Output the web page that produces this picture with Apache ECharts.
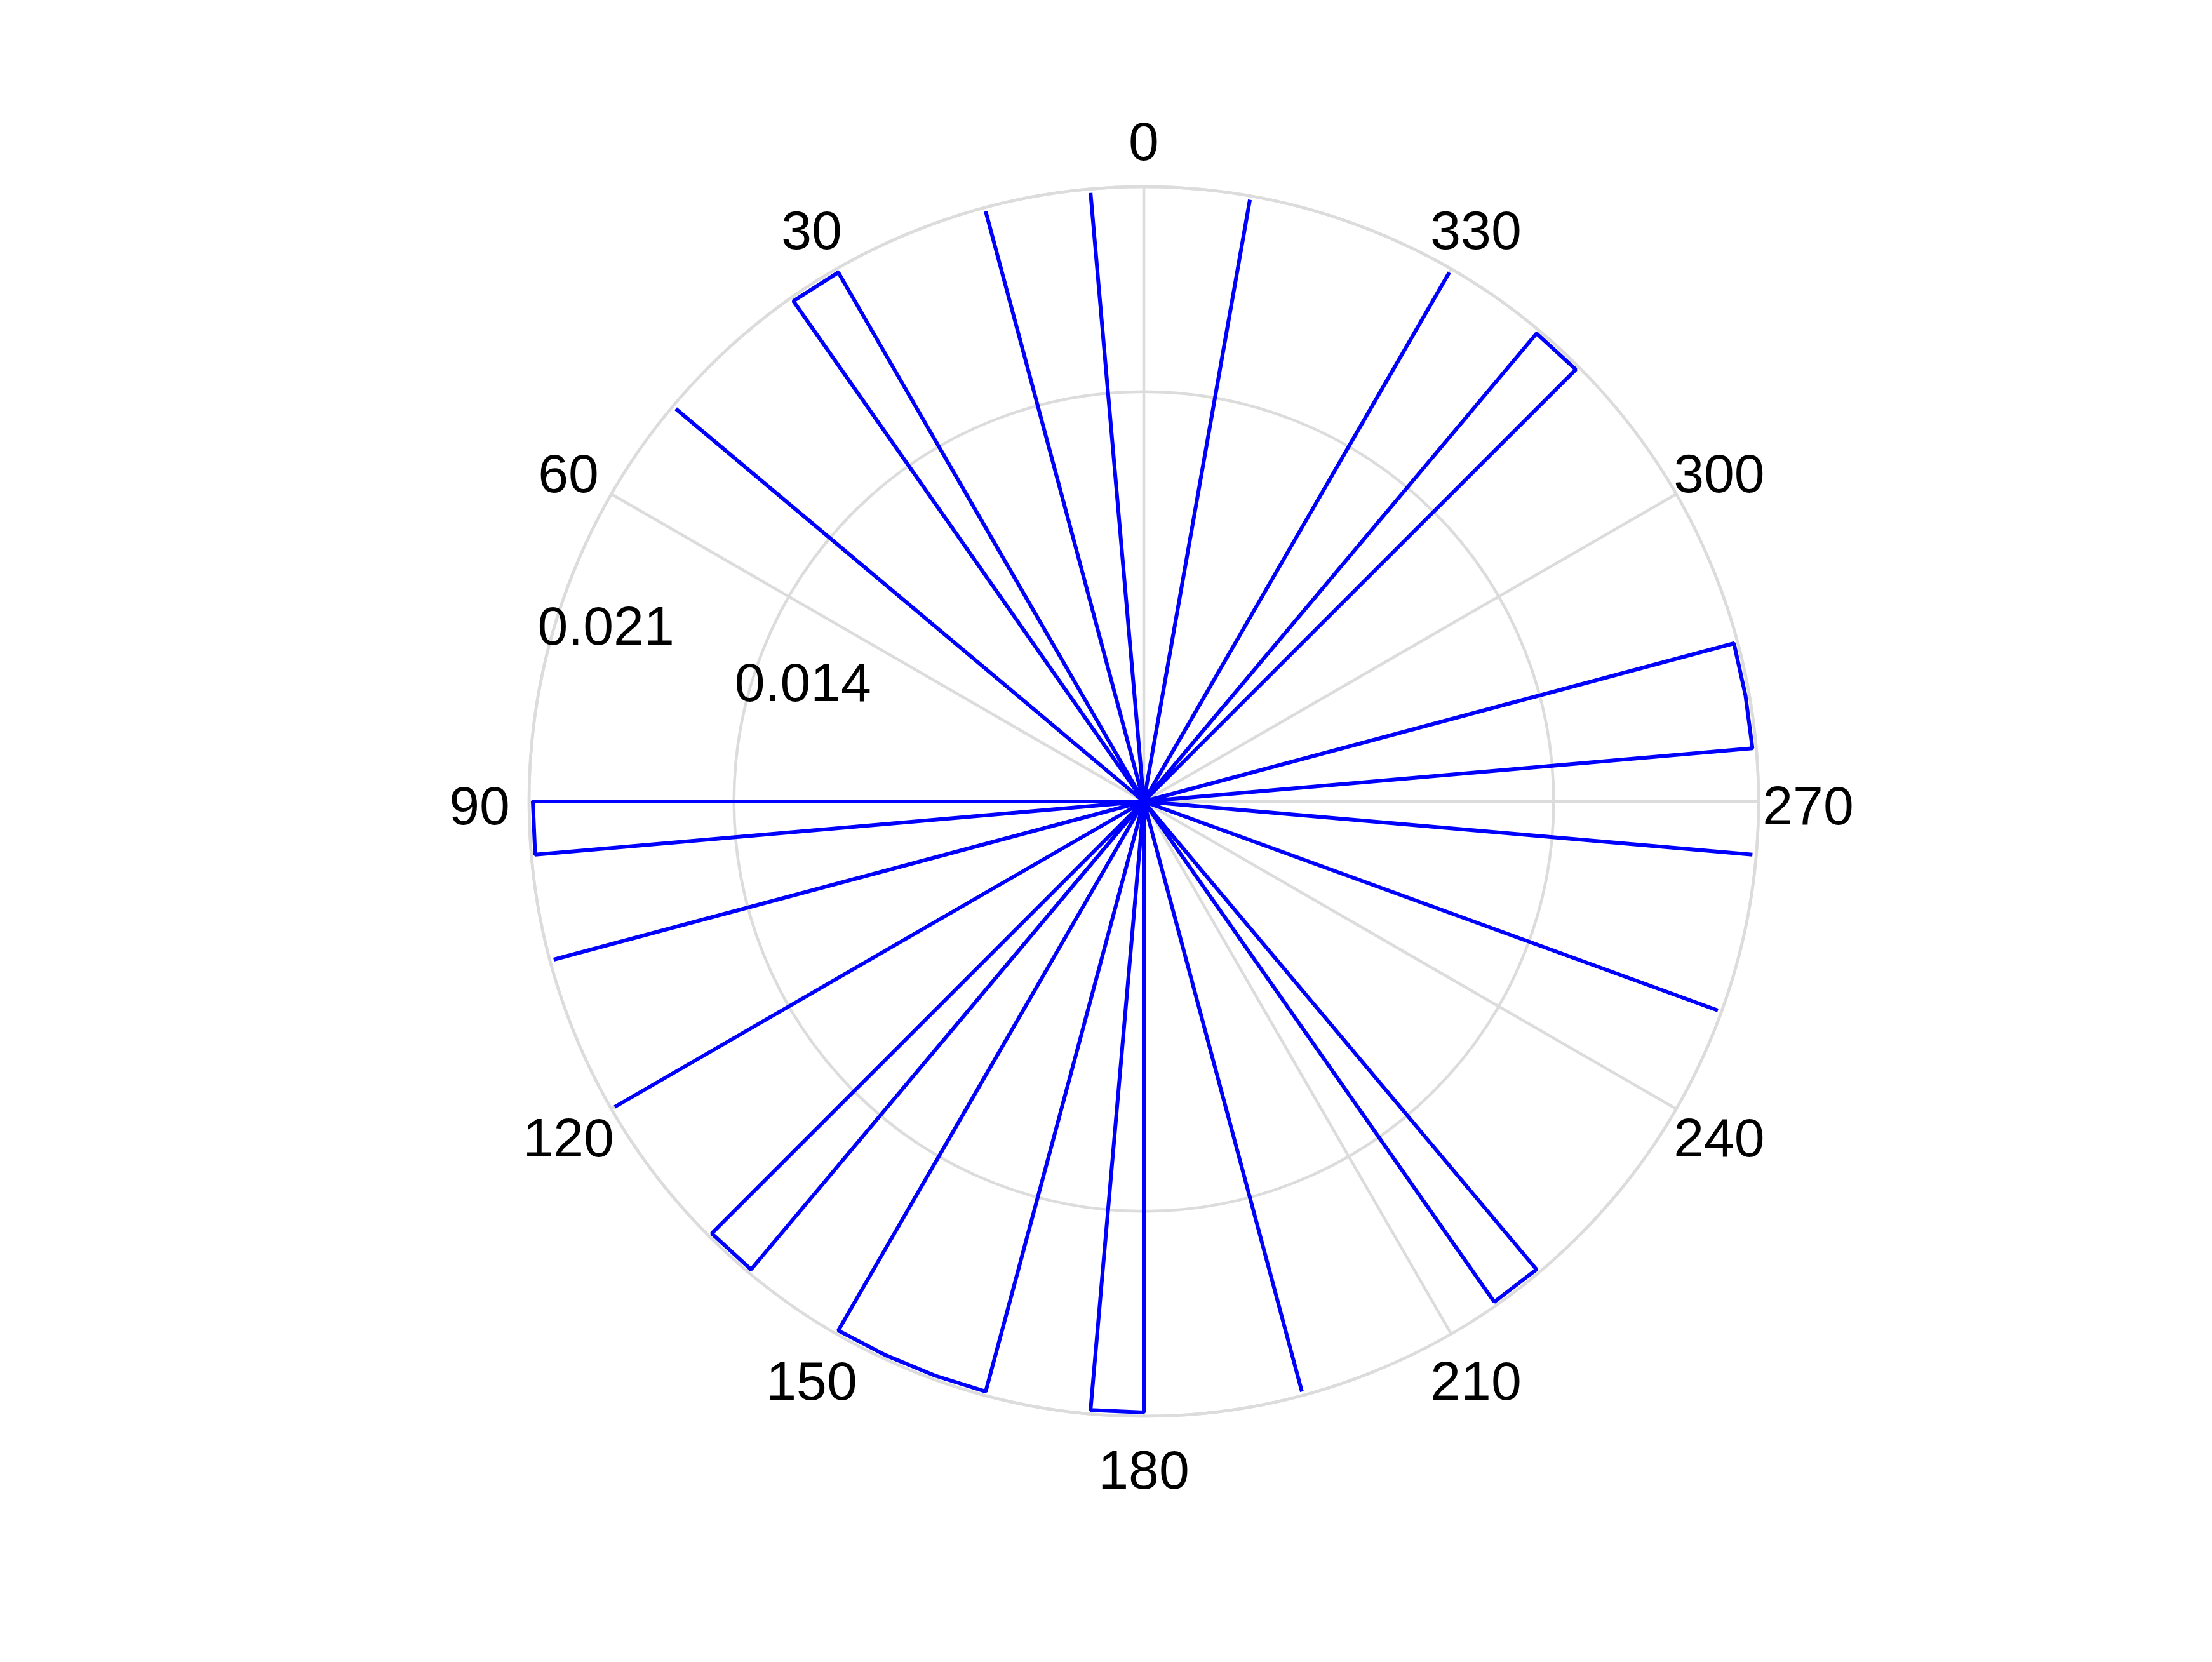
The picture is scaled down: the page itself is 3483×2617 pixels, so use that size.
<!DOCTYPE html>
<html>
<head>
<meta charset="utf-8">
<script src="https://cdn.jsdelivr.net/npm/echarts@6/dist/echarts.min.js"></script>
<style>
html,body{margin:0;padding:0;background:#ffffff;}
#chart{width:3483px;height:2617px;}
</style>
</head>
<body>
<div id="chart"></div>
<script>
// Angles (degrees, counter-clockwise from top)
const angles = [
  0, 5, 10, 15, 20, 25, 30, 35, 40, 45, 50, 55,
  60, 65, 70, 75, 80, 85, 90, 95, 100, 105, 110, 115,
  120, 125, 130, 135, 140, 145, 150, 155, 160, 165, 170, 175,
  180, 185, 190, 195, 200, 205, 210, 215, 220, 225, 230, 235,
  240, 245, 250, 255, 260, 265, 270, 275, 280, 285, 290, 295,
  300, 305, 310, 315, 320, 325, 330, 335, 340, 345, 350, 355
];
// Radius at each angle
const values = [
  0, 0.02087, 0, 0.02087, 0, 0, 0.02087, 0.02087, 0, 0, 0.02087, 0,
  0, 0, 0, 0, 0, 0, 0.02087, 0.02087, 0, 0.02087, 0, 0,
  0.02087, 0, 0, 0.02087, 0.02087, 0, 0.02087, 0.02087, 0.02087, 0.02087, 0, 0.02087,
  0.02087, 0, 0, 0.02087, 0, 0, 0, 0.02087, 0.02087, 0, 0, 0,
  0, 0, 0.02087, 0, 0, 0.02087, 0, 0.02087, 0.02087, 0.02087, 0, 0,
  0, 0, 0, 0.02087, 0.02087, 0, 0.02087, 0, 0, 0, 0.02087, 0
];
// Tick labels
const angleTicks = [0, 30, 60, 90, 120, 150, 180, 210, 240, 270, 300, 330];
const angleTickLabels = ['0', '30', '60', '90', '120', '150', '180', '210', '240', '270', '300', '330'];
const radiusTicks = [0.014, 0.021];
const radiusTickLabels = ['0.014', '0.021'];

const rMax = 0.021;
const angleLabelRadius = rMax * 1.0806;   // labels sit just outside the outer ring
const radiusLabelAngle = 74;

const FONT = "'Liberation Sans', Arial, Helvetica, sans-serif";
const GRID = '#dcdcdc';

const chart = echarts.init(document.getElementById('chart'), null, {renderer: 'canvas'});

const labelStyle = {
  show: true,
  position: 'inside',
  formatter: p => p.name,
  verticalAlign: 'middle',
  color: '#000000',
  opacity: 1,
  textBorderWidth: 0,
  textShadowBlur: 0,
  fontFamily: FONT,
  fontSize: 86
};

const option = {
  animation: false,
  backgroundColor: '#ffffff',
  polar: {
    center: [1801, 1262],
    radius: 968
  },
  angleAxis: {
    type: 'value',
    min: 0,
    max: 360,
    interval: 30,
    startAngle: 90,
    clockwise: false,
    axisLine: {show: true, lineStyle: {color: GRID, width: 4.5}},
    axisTick: {show: false},
    axisLabel: {show: false},
    splitLine: {show: true, lineStyle: {color: GRID, width: 4.5}}
  },
  radiusAxis: {
    type: 'value',
    min: 0,
    max: rMax,
    interval: 0.014,
    axisLine: {show: false},
    axisTick: {show: false},
    axisLabel: {show: false},
    splitLine: {show: true, lineStyle: {color: GRID, width: 4.5}}
  },
  series: [
    {
      type: 'line',
      coordinateSystem: 'polar',
      data: angles.map((a, i) => [values[i], a]),
      symbol: 'none',
      smooth: false,
      clip: false,
      lineStyle: {color: '#0000ff', width: 6},
      z: 3
    },
    {
      type: 'scatter',
      coordinateSystem: 'polar',
      clip: false,
      symbolSize: 0,
      itemStyle: {color: '#000000'},
      data: angleTicks.map((a, i) => ({value: [angleLabelRadius, a], name: angleTickLabels[i]})),
      label: Object.assign({}, labelStyle, {align: 'center', offset: [0, 12]}),
      z: 4
    },
    {
      type: 'scatter',
      coordinateSystem: 'polar',
      clip: false,
      symbolSize: 0,
      itemStyle: {color: '#000000'},
      data: radiusTicks.map((r, i) => ({value: [r, radiusLabelAngle], name: radiusTickLabels[i]})),
      label: Object.assign({}, labelStyle, {align: 'left', offset: [-24, -4]}),
      z: 4
    }
  ]
};
chart.setOption(option);
</script>
</body>
</html>
